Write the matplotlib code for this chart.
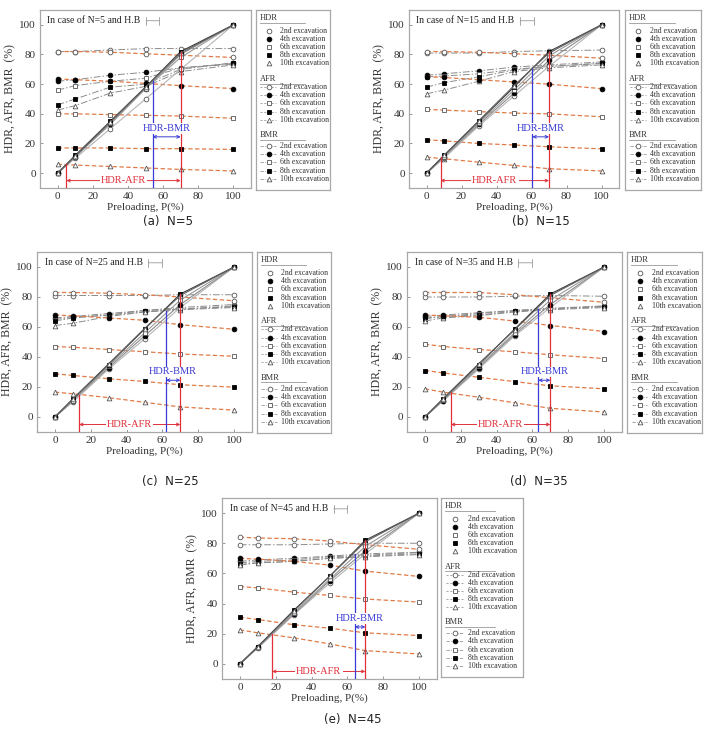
import numpy as np
import matplotlib
matplotlib.use('Agg')
import matplotlib.pyplot as plt

plt.rcParams['font.family'] = ['Liberation Serif', 'DejaVu Sans']

# preloading levels (x axis)
preload = [0, 10, 30, 50, 70, 100]
excavations = ['2nd excavation', '4th excavation', '6th excavation', '8th excavation', '10th excavation']
n_values = [5, 15, 25, 35, 45]
captions = ['(a)  N=5', '(b)  N=15', '(c)  N=25', '(d)  N=35', '(e)  N=45']

# N=5
hdr_n5 = [[0, 10, 30, 50, 70, 100],
          [0, 11, 33, 57, 80, 100],
          [0, 11, 34, 57, 78, 100],
          [0, 12, 35, 58, 82, 100],
          [0, 11.5, 34.5, 58, 81, 100]]
afr_n5 = [[82, 82, 81.5, 80.5, 79.5, 78],
          [63.5, 63, 62, 60.5, 59, 57],
          [40, 40, 39.5, 39, 38.5, 37],
          [17, 17, 17, 16.5, 16.5, 16],
          [6, 5.5, 4.5, 3.5, 2.5, 1.5]]
bmr_n5 = [[82, 82, 83, 84, 84, 84],
          [62, 63, 66, 68, 71, 74],
          [56, 59, 62, 64, 71, 73.5],
          [46, 50, 58, 60, 70, 74.5],
          [42.5, 45.5, 54, 58.5, 68.5, 73]]

# N=15
hdr_n15 = [[0, 10, 32, 52, 72, 100],
           [0, 11, 33, 54, 76, 100],
           [0, 11, 34, 56, 79, 100],
           [0, 12, 35, 58, 82, 100],
           [0, 12, 35.5, 59, 81, 100]]
afr_n15 = [[82, 82, 81.5, 80.5, 79.5, 77.5],
           [65, 64.5, 63, 61.5, 60, 57],
           [43, 42.5, 41.5, 40.5, 40, 38],
           [22.5, 21.8, 20, 19, 17.8, 16.4],
           [10.8, 9.7, 7.4, 5.2, 3, 1.5]]
bmr_n15 = [[81, 81, 81, 82, 82.5, 83],
           [66, 67, 69, 71.5, 73, 75],
           [65, 65.5, 67, 70, 72, 74],
           [58, 61, 65, 69.5, 72, 74],
           [53.5, 56, 62, 68.5, 71, 73]]

# N=25
hdr_n25 = [[0, 10, 32, 52, 73, 100],
           [0, 11, 33, 54, 75, 100],
           [0, 11, 34, 56, 78, 100],
           [0, 12, 35, 58.5, 82, 100],
           [0, 12, 35.5, 59, 81, 100]]
afr_n25 = [[83, 83, 82.5, 81.5, 80, 77.5],
           [68, 67.5, 66, 64.5, 61.5, 58.5],
           [47, 46.5, 45, 43.5, 42, 40.5],
           [28.8, 27.7, 25.5, 23.7, 21.5, 19.9],
           [16.6, 15.5, 12.9, 9.8, 6.7, 4.6]]
bmr_n25 = [[81, 81, 81, 81, 81.5, 81.5],
           [66, 67, 69, 71, 73, 75],
           [65, 66.5, 68, 70, 72, 74],
           [64, 66, 68, 71, 72, 73.5],
           [61, 62.5, 67, 70, 71.5, 73]]

# N=35
hdr_n35 = [[0, 10.5, 32, 54, 73, 100],
           [0, 11, 33, 55, 75, 100],
           [0, 11.5, 34, 56, 78, 100],
           [0, 12, 35, 58.5, 82, 100],
           [0, 12, 35.5, 58, 81, 100]]
afr_n35 = [[83, 83, 83, 81.5, 79.5, 76.5],
           [68, 67.5, 66.5, 64, 61, 57],
           [48.6, 47, 45, 43.5, 41.5, 39],
           [31, 29.4, 26.5, 23.6, 20.8, 18.8],
           [18.8, 16.6, 13.2, 9.5, 5.8, 3.3]]
bmr_n35 = [[80, 80, 80, 80.5, 81, 80.5],
           [67, 68, 69.5, 71, 72.5, 74],
           [66, 67, 69, 71, 72, 74],
           [65.5, 67, 68, 70.5, 72, 73.5],
           [64, 66, 67.5, 70, 71.5, 73]]

# N=45
hdr_n45 = [[0, 10.5, 32.5, 53.5, 73, 100],
           [0, 11, 33, 55, 75, 100],
           [0, 11, 34, 56, 78, 100],
           [0, 11.5, 35.5, 58, 82, 100],
           [0, 11.5, 35, 58, 81, 100]]
afr_n45 = [[84, 83.5, 83, 81.5, 79, 76],
           [70, 69.5, 68, 65.5, 61.5, 58],
           [51.3, 50.4, 47.6, 45.4, 43, 41],
           [31, 29.4, 26, 23.7, 20.6, 18.8],
           [22.6, 20.6, 17.3, 13.3, 8.8, 6.6]]
bmr_n45 = [[79, 79, 79, 79.5, 80, 80],
           [68, 69, 70, 71.5, 73, 74],
           [67, 68, 69, 71, 72, 74],
           [66, 67, 68, 70, 71.5, 73],
           [65.5, 67, 68, 70, 71, 72.5]]

# crossing points used for the HDR-AFR / HDR-BMR ranges
afr_cross_x = [5, 8, 13.5, 14.5, 18]
afr_cross_y = [6, 11, 15, 16.5, 20]
bmr_cross_x = [54, 60.5, 62, 63.3, 64.2]
bmr_cross_y = [62, 70, 71, 72, 73]
end_x = 70
end_y = 82

hdr_all = [hdr_n5, hdr_n15, hdr_n25, hdr_n35, hdr_n45]
afr_all = [afr_n5, afr_n15, afr_n25, afr_n35, afr_n45]
bmr_all = [bmr_n5, bmr_n15, bmr_n25, bmr_n35, bmr_n45]

markers = ['o', 'o', 's', 's', '^']
faces = ['white', 'black', 'white', 'black', 'white']
hdr_colors = ['#b5b5b5', '#8c8c8c', '#9a9a9a', '#3c3c3c', '#5e5e5e']
orange = '#e07b48'
red = '#e0303a'
blue = '#3a3ad6'
frame = '#a8a8a8'

W, H = 708, 738
fig = plt.figure(figsize=(W / 100, H / 100), dpi=100)


def px_rect(l, t, r, b):
    return [l / W, 1 - b / H, (r - l) / W, (b - t) / H]


# (axes rect, legend rect, caption position) in pixels
layout = [
    ((40, 10, 251, 188), (256, 10, 330, 190), (168, 222)),
    ((409, 10, 619, 188), (625, 10, 701, 190), (541, 222)),
    ((37, 252, 252, 432), (257, 252, 331, 433), (170, 481)),
    ((407, 252, 622, 432), (627, 252, 702, 433), (539, 482)),
    ((222, 498, 437, 679), (441, 498, 523, 677), (353, 720)),
]


def mk(i):
    ec = '#555555' if faces[i] == 'white' else 'black'
    return dict(marker=markers[i], ms=3.4, mfc=faces[i], mec=ec, mew=0.6)


def draw_panel(ax, k):
    for i in range(5):
        ax.plot(preload, bmr_all[k][i], color='#8c8c8c', lw=0.7, dashes=(7, 2, 1.5, 2), zorder=2, **mk(i))
        ax.plot(preload, afr_all[k][i], color=orange, lw=0.9, dashes=(3.5, 2), zorder=3, **mk(i))
    for i in range(5):
        ax.plot(preload, hdr_all[k][i], color=hdr_colors[i], lw=0.8, zorder=4, **mk(i))

    # HDR-AFR range
    xa, xb = afr_cross_x[k], bmr_cross_x[k]
    ax.plot([xa, xa], [-10, afr_cross_y[k]], color=red, lw=0.9, zorder=5)
    ax.plot([end_x, end_x], [-10, end_y], color=red, lw=0.9, zorder=5)
    ax.annotate('', xy=(xa, -5), xytext=(end_x, -5),
                arrowprops=dict(arrowstyle='<->', color=red, lw=0.7, shrinkA=0, shrinkB=0, mutation_scale=5), zorder=5)
    ax.text((xa + end_x) / 2, -5, 'HDR-AFR', color=red, ha='center', va='center', fontsize=7.5,
            bbox=dict(fc='white', ec='none', pad=0.8), zorder=6)

    # HDR-BMR range
    ax.plot([xb, xb], [-10, bmr_cross_y[k]], color=blue, lw=0.9, zorder=5)
    ax.annotate('', xy=(xb, 24.5), xytext=(end_x, 24.5),
                arrowprops=dict(arrowstyle='<->', color=blue, lw=0.7, shrinkA=0, shrinkB=0, mutation_scale=5), zorder=5)
    ax.text((xb + end_x) / 2, 30, 'HDR-BMR', color=blue, ha='center', va='center', fontsize=7.5,
            bbox=dict(fc='white', ec='none', pad=0.5), zorder=6)

    t = ax.text(0.035, 0.965, f'In case of N={n_values[k]} and H.B', transform=ax.transAxes,
                ha='left', va='top', fontsize=7, color='#222222', zorder=7)
    ax.annotate('', xy=(1.06, 0.5), xycoords=t, xytext=(1.2, 0.5), textcoords=t,
                arrowprops=dict(arrowstyle='|-|,widthA=0.3,widthB=0.3', color='#999999', lw=0.6,
                                shrinkA=0, shrinkB=0))

    ax.set_xlim(-10, 110)
    ax.set_ylim(-10, 110)
    ax.set_xticks([0, 20, 40, 60, 80, 100])
    ax.set_yticks([0, 20, 40, 60, 80, 100])
    ax.tick_params(direction='in', length=2.5, width=0.6, color='#888888', labelsize=8,
                   labelcolor='#333333', pad=3)
    for s in ax.spines.values():
        s.set_color(frame)
        s.set_linewidth(0.9)
    ax.set_xlabel('Preloading, P(%)', fontsize=8, color='#333333', labelpad=1)
    ax.set_ylabel('HDR, AFR, BMR  (%)', fontsize=8.5, color='#333333', labelpad=2)


def draw_legend(lax):
    lax.set_xlim(0, 1)
    lax.set_ylim(0, 1)
    lax.set_xticks([])
    lax.set_yticks([])
    for s in lax.spines.values():
        s.set_color(frame)
        s.set_linewidth(0.9)
    groups = [('HDR', 0.954, 0.885, None), ('AFR', 0.617, 0.572, (2.5, 2)), ('BMR', 0.306, 0.244, (4, 1.5, 1, 1.5))]
    for name, hy, ey, dash in groups:
        lax.text(0.05, hy, name, fontsize=6, ha='left', va='center', color='#333333')
        lax.plot([0.05, 0.66], [hy - 0.026, hy - 0.026], color='#999999', lw=0.6)
        for i in range(5):
            y = ey - 0.0455 * i
            if dash is not None:
                lax.plot([0.06, 0.27], [y, y], color='#999999', lw=0.6, dashes=dash)
            lax.plot([0.17], [y], **mk(i))
            lax.text(0.33, y, excavations[i], fontsize=5.6, ha='left', va='center', color='#333333')


for k in range(5):
    arect, lrect, cap = layout[k]
    ax = fig.add_axes(px_rect(*arect))
    draw_panel(ax, k)
    lax = fig.add_axes(px_rect(*lrect))
    draw_legend(lax)
    fig.text(cap[0] / W, 1 - cap[1] / H, captions[k], ha='center', va='center', fontsize=8.5,
             family='DejaVu Sans', color='#222222')

fig.savefig('out.png', dpi=100)
